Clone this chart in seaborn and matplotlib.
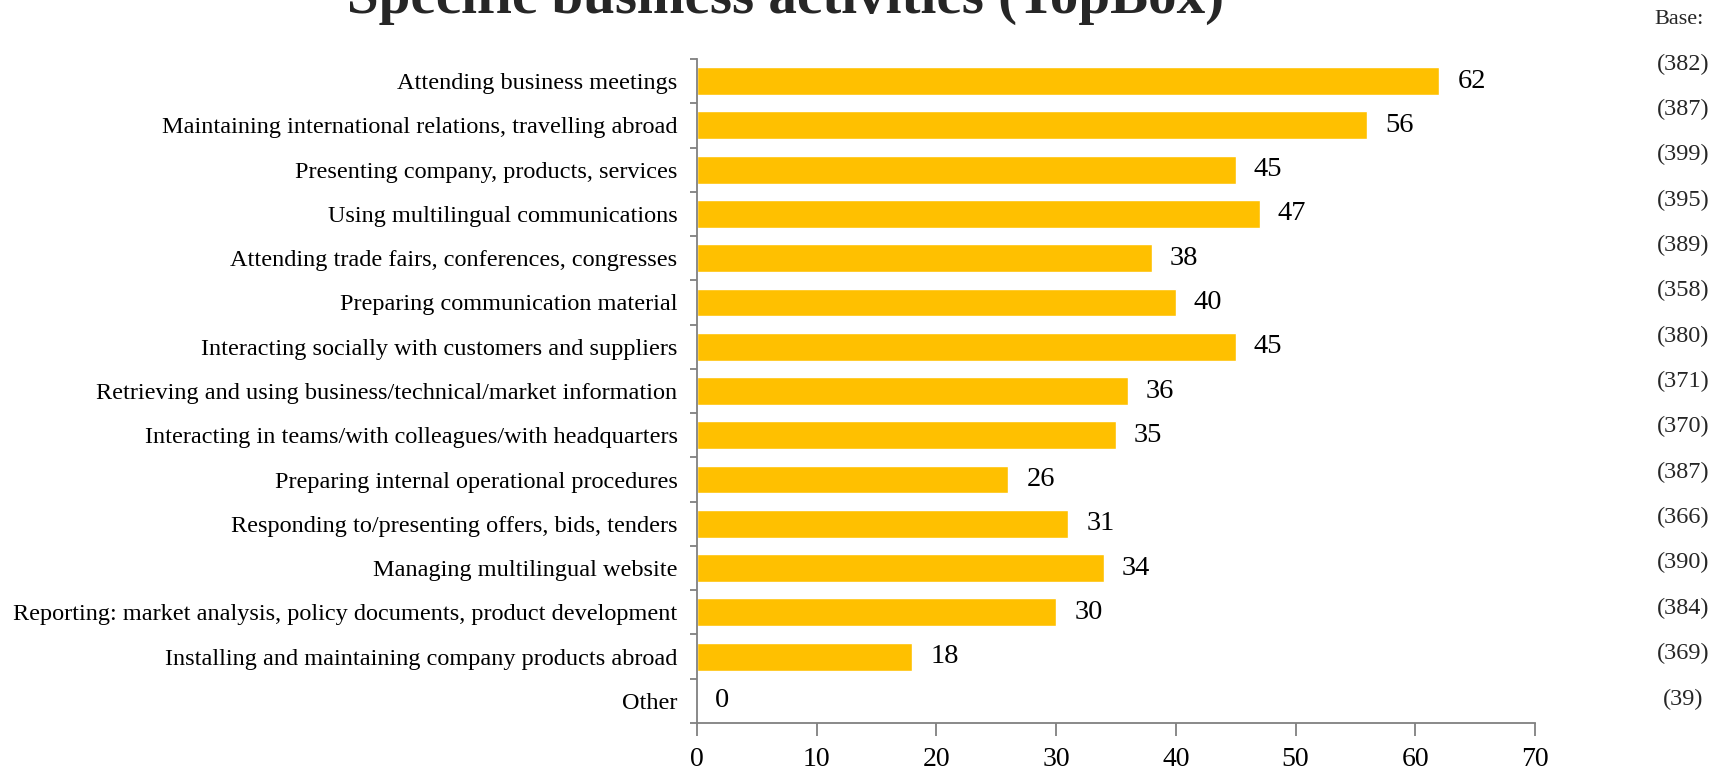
import matplotlib
matplotlib.use("Agg")
import matplotlib.pyplot as plt
import seaborn as sns
import pandas as pd
from matplotlib.ticker import FixedLocator

categories = [
    "Attending business meetings",
    "Maintaining international relations, travelling abroad",
    "Presenting company, products, services",
    "Using multilingual communications",
    "Attending trade fairs, conferences, congresses",
    "Preparing communication material",
    "Interacting socially with customers and suppliers",
    "Retrieving and using business/technical/market information",
    "Interacting in teams/with colleagues/with headquarters",
    "Preparing internal operational procedures",
    "Responding to/presenting offers, bids, tenders",
    "Managing multilingual website",
    "Reporting: market analysis, policy documents, product development",
    "Installing and maintaining company products abroad",
    "Other",
]
values = [62, 56, 45, 47, 38, 40, 45, 36, 35, 26, 31, 34, 30, 18, 0]
bases = ["(382)", "(387)", "(399)", "(395)", "(389)", "(358)", "(380)", "(371)",
         "(370)", "(387)", "(366)", "(390)", "(384)", "(369)", "(39)"]
x_ticks = [0, 10, 20, 30, 40, 50, 60, 70]
title = "Specific business activities (TopBox)"
base_header = "Base:"

sns.set_theme(style="white")
plt.rcParams["font.family"] = ["Liberation Serif", "DejaVu Serif"]

W, H = 1723, 772
fig = plt.figure(figsize=(W / 100, H / 100), dpi=100)
ax = fig.add_axes([697 / W, 1 - 723 / H, (1535 - 697) / W, (723 - 59) / H])

df = pd.DataFrame({"category": categories, "value": values})
sns.barplot(data=df, x="value", y="category", orient="h", color="#FFC000",
            saturation=1, width=0.63, ax=ax)

ax.set_xlim(0, 70)
ax.set_ylim(len(categories) - 0.5, -0.5)
ax.set_xticks(x_ticks)
ax.set_xticklabels([str(t) for t in x_ticks], fontsize=20, color="black")
ax.set_xlabel("")
ax.set_ylabel("")
ax.tick_params(axis="y", which="major", length=0, labelsize=17.5, labelcolor="black", pad=14)
ax.yaxis.set_minor_locator(FixedLocator([i - 0.5 for i in range(len(categories) + 1)]))
ax.tick_params(axis="y", which="minor", left=True, length=5, width=1.3, color="#808080")
ax.tick_params(axis="x", which="major", bottom=True, length=9, width=1.3, color="#808080", pad=8)

for side in ["top", "right"]:
    ax.spines[side].set_visible(False)
for side in ["left", "bottom"]:
    ax.spines[side].set_color("#808080")
    ax.spines[side].set_linewidth(1.3)

ax.bar_label(ax.containers[0], labels=[str(v) for v in values], padding=13, fontsize=20.5, color="black")

fig.text(786 / W, 1 - 13 / H, title, ha="center", va="baseline", fontsize=41, fontweight="bold")
fig.text(1679 / W, 1 - 20 / H, base_header, ha="center", va="center", fontsize=16)
y0, y1 = 64, 699
for i, b in enumerate(bases):
    y = y0 + (y1 - y0) * i / (len(bases) - 1)
    fig.text(1683 / W, 1 - y / H, b, ha="center", va="center", fontsize=17.5)

fig.savefig("out.png", dpi=100)
